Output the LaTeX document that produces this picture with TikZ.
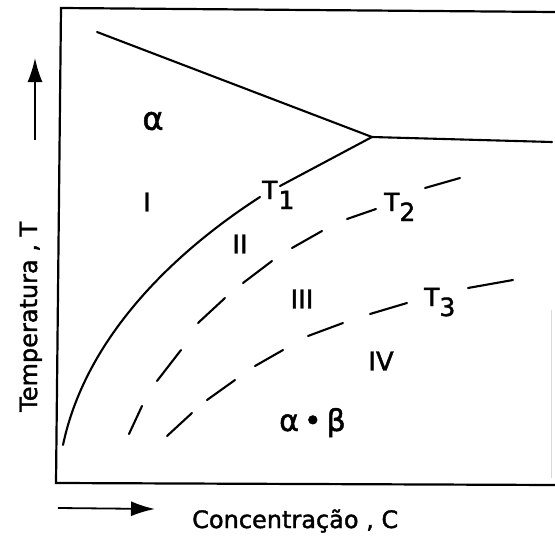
\documentclass[tikz,border=0pt]{standalone}
\usepackage{fontspec}
\setmainfont{DejaVu Sans}
\newfontfamily\lfont{DejaVu Sans}[FakeBold=1.6]
\usetikzlibrary{arrows.meta}
\begin{document}
\begin{tikzpicture}[x=1pt,y=-1pt,
  curve/.style={line width=2.1pt, line cap=round, line join=round},
  dashseg/.style={line width=2.1pt, line cap=round},
  frame/.style={line width=2.2pt, line join=miter},
  lab/.style={inner sep=0pt, font=\lfont\fontsize{26}{26}\selectfont},
  tlab/.style={inner sep=0pt, anchor=base west, font=\lfont\fontsize{25}{25}\selectfont},
  axlab/.style={inner sep=0pt, anchor=base west, font=\lfont\fontsize{24}{24}\selectfont},
  axarrow/.style={line width=1.8pt, -{Latex[length=24pt,width=15pt]}}]
\useasboundingbox (0,0) rectangle (555,536);
% frame
\coordinate (tr) at (555,12);
\coordinate (tl) at (61,8);
\coordinate (bl) at (56,483);
\coordinate (br) at (555,485);
\draw[frame] (tr) -- (tl) -- (bl) -- (br);
\draw[gray!30, line width=0.8pt] (551,310) -- (551,478);
% phase boundaries
\coordinate (start) at (97,32);
\coordinate (tp) at (372,137);
\coordinate (rend) at (552,142);
\draw[curve] (start) -- (tp) -- (rend);
\coordinate (t1a) at (280,186);
\draw[curve] (tp) -- (t1a);
\coordinate (c0) at (63,445);
\coordinate (c1) at (260,197);
\draw[curve] (c0) .. controls (85,340) and (170,255) .. (c1);
% T2 dashed
\foreach \a/\b in {{(129,434)}/{(142,406)}, {(157,381)}/{(181,350)}, {(198,323)}/{(225,298)}, {(243,283)}/{(272,261)}, {(292,248)}/{(322,231)}, {(347,219)}/{(376,209)}, {(425,188)}/{(460,178)}}
  \draw[dashseg] \a -- \b;
% T3 dashed
\foreach \a/\b in {{(167,436)}/{(192,413)}, {(207,400)}/{(235,380)}, {(255,366)}/{(283,350)}, {(308,336)}/{(343,323)}, {(370,314)}/{(407,303)}, {(468,288)}/{(513,280)}}
  \draw[dashseg] \a -- \b;
% labels
\node[lab, font=\lfont\fontsize{32}{32}\selectfont] (alpha) at (153,121) {α};
\node[lab] (r1) at (147,202) {I};
\node[lab] (r2) at (240,244) {II};
\node[lab] (r3) at (302,299) {III};
\node[lab] (r4) at (381,361) {IV};
\node[tlab, font=\lfont\fontsize{30}{30}\selectfont] (ab) at (279,431) {α\,•\,β};
\node[tlab] (T1) at (262,199) {T\kern1pt\raisebox{-10pt}{1}};
\node[tlab] (T2) at (384,211) {T\raisebox{-10pt}{2}};
\node[tlab] (T3) at (424,306) {T\raisebox{-10pt}{3}};
% axes labels
\node[axlab] (xl) at (192,528) {Concentração , C};
\node[axlab, rotate=90] (yl) at (37,412) {Temperatura , T};
\coordinate (ya) at (35,140);
\coordinate (yb) at (35,58);
\draw[axarrow] (ya) -- (yb);
\coordinate (xa) at (58,508);
\coordinate (xb) at (155,509);
\draw[axarrow] (xa) -- (xb);
\end{tikzpicture}
\end{document}
